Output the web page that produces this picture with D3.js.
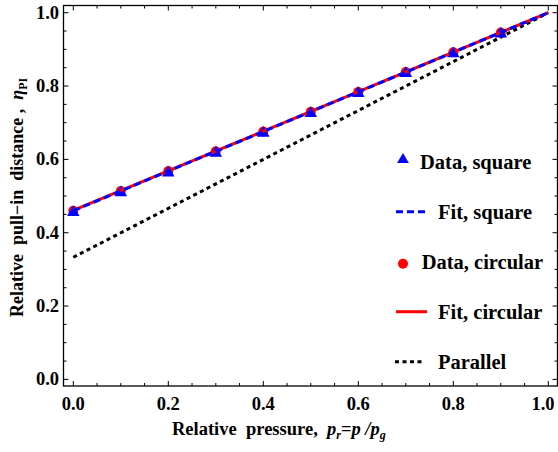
<!DOCTYPE html>
<html>
<head>
<meta charset="utf-8">
<script src="https://cdn.jsdelivr.net/npm/d3@7"></script>
<style>
body { margin: 0; background: #fff; }
svg text { font-family: "Liberation Serif", "Times New Roman", serif; font-weight: bold; fill: #000; }
</style>
</head>
<body>
<div id="chart"></div>
<script>
// data
let pressure = [0, 0.1, 0.2, 0.3, 0.4, 0.5, 0.6, 0.7, 0.8, 0.9];
let squareData = [0.458, 0.512, 0.566, 0.620, 0.674, 0.728, 0.783, 0.837, 0.891, 0.945];
let circularData = [0.460, 0.514, 0.568, 0.622, 0.676, 0.730, 0.784, 0.838, 0.892, 0.946];
let fitX = [0, 1];
let fitSquare = [0.460, 1.0];
let fitCircular = [0.461, 1.0];
let parallelLine = [0.333, 1.0];
let tickLabels = ["0.0", "0.2", "0.4", "0.6", "0.8", "1.0"];
let legendLabels = ["Data, square", "Fit, square", "Data, circular", "Fit, circular", "Parallel"];

let width = 558,
height = 452;

let svg = d3.select("#chart")
.append("svg")
.attr("width", width)
.attr("height", height);

let x = d3.scaleLinear().domain([0, 1]).range([73.3, 548.3]);
let y = d3.scaleLinear().domain([0, 1]).range([379.4, 12.7]);

let fLeft = 63.5, fRight = 557.5, fTop = 5.5, fBottom = 386;

// ticks every 0.05, majors every 0.2
let minorTicks = d3.range(0, 21).map(d => d * 0.05);
let isMajor = d => Math.abs(d * 5 - Math.round(d * 5)) < 1e-6;

let ticks = svg.append("g").attr("stroke", "#000").attr("stroke-width", 1);
minorTicks.forEach(t => {
  let len = isMajor(t) ? 5 : 3;
  ticks.append("line").attr("x1", x(t)).attr("x2", x(t)).attr("y1", fBottom).attr("y2", fBottom - len);
  ticks.append("line").attr("x1", x(t)).attr("x2", x(t)).attr("y1", fTop).attr("y2", fTop + len);
  ticks.append("line").attr("x1", fLeft).attr("x2", fLeft + len).attr("y1", y(t)).attr("y2", y(t));
  ticks.append("line").attr("x1", fRight).attr("x2", fRight - len).attr("y1", y(t)).attr("y2", y(t));
});

svg.append("rect")
.attr("x", fLeft).attr("y", fTop)
.attr("width", fRight - fLeft).attr("height", fBottom - fTop)
.attr("fill", "none").attr("stroke", "#000").attr("stroke-width", 1.3);

// tick labels
tickLabels.forEach(s => {
  let v = +s;
  svg.append("text").text(s)
    .attr("x", Math.min(x(v), 543)).attr("y", 410)
    .attr("text-anchor", "middle")
    .style("font-size", "18.5px");
  svg.append("text").text(s)
    .attr("x", 59).attr("y", y(v) + 6)
    .attr("text-anchor", "end")
    .style("font-size", "18.5px");
});

// axis titles
let xt = svg.append("text").attr("x", 172).attr("y", 435).style("font-size", "18.5px");
xt.append("tspan").text("Relative\u00a0 pressure,\u00a0 ");
xt.append("tspan").text("p").style("font-style", "italic");
xt.append("tspan").text("r").style("font-style", "italic").style("font-size", "12px").attr("dy", 4);
xt.append("tspan").text("=").attr("dy", -4);
xt.append("tspan").text("p").style("font-style", "italic");
xt.append("tspan").text(" /").style("font-style", "italic");
xt.append("tspan").text("p").style("font-style", "italic");
xt.append("tspan").text("g").style("font-style", "italic").style("font-size", "12px").attr("dy", 4);

let yt = svg.append("text")
.attr("transform", "translate(23,317) rotate(-90)")
.style("font-size", "18px");
yt.append("tspan").text("Relative\u00a0 pull\u2212in\u00a0 distance\u00a0,\u00a0 ");
yt.append("tspan").text("\u03b7").style("font-style", "italic");
yt.append("tspan").text("PI").style("font-size", "12px").attr("dy", 4);

// lines
let line = d3.line().x(d => x(d[0])).y(d => y(d[1]));
let plot = svg.append("g");

plot.append("path")
.attr("d", line(d3.zip(fitX, parallelLine)))
.attr("fill", "none").attr("stroke", "#000")
.attr("stroke-width", 3).attr("stroke-dasharray", "4,3.5");

plot.selectAll("circle.c")
.data(d3.zip(pressure, circularData))
.join("circle")
.attr("cx", d => x(d[0])).attr("cy", d => y(d[1]))
.attr("r", 5).attr("fill", "#ff0000");

plot.selectAll("path.t")
.data(d3.zip(pressure, squareData))
.join("path")
.attr("d", d3.symbol().type(d3.symbolTriangle).size(68))
.attr("transform", d => `translate(${x(d[0])},${y(d[1]) + 1})`)
.attr("fill", "#0000ff");

plot.append("path")
.attr("d", line(d3.zip(fitX, fitCircular)))
.attr("fill", "none").attr("stroke", "#ff0000").attr("stroke-width", 3);

plot.append("path")
.attr("d", line(d3.zip(fitX, fitSquare)))
.attr("fill", "none").attr("stroke", "#0000ff")
.attr("stroke-width", 3).attr("stroke-dasharray", "7,4");

// legend
let lg = svg.append("g");
let rowY = i => 161.7 + i * 50;

lg.append("path")
.attr("d", d3.symbol().type(d3.symbolTriangle).size(60))
.attr("transform", `translate(403,${rowY(0) - 2})`)
.attr("fill", "#0000ff");
lg.append("line").attr("x1", 396).attr("x2", 427).attr("y1", rowY(1)).attr("y2", rowY(1))
.attr("stroke", "#0000ff").attr("stroke-width", 3).attr("stroke-dasharray", "7,4");
lg.append("circle").attr("cx", 403).attr("cy", rowY(2) + 2).attr("r", 5).attr("fill", "#ff0000");
lg.append("line").attr("x1", 396).attr("x2", 427).attr("y1", rowY(3)).attr("y2", rowY(3))
.attr("stroke", "#ff0000").attr("stroke-width", 3);
lg.append("line").attr("x1", 395).attr("x2", 424).attr("y1", rowY(4)).attr("y2", rowY(4))
.attr("stroke", "#000").attr("stroke-width", 3).attr("stroke-dasharray", "4,3.5");

let textX = [420, 438, 421.7, 438, 438];
legendLabels.forEach((s, i) => {
  lg.append("text").text(s)
    .attr("x", textX[i]).attr("y", rowY(i) + 7)
    .style("font-size", "20.5px");
});
</script>
</body>
</html>
